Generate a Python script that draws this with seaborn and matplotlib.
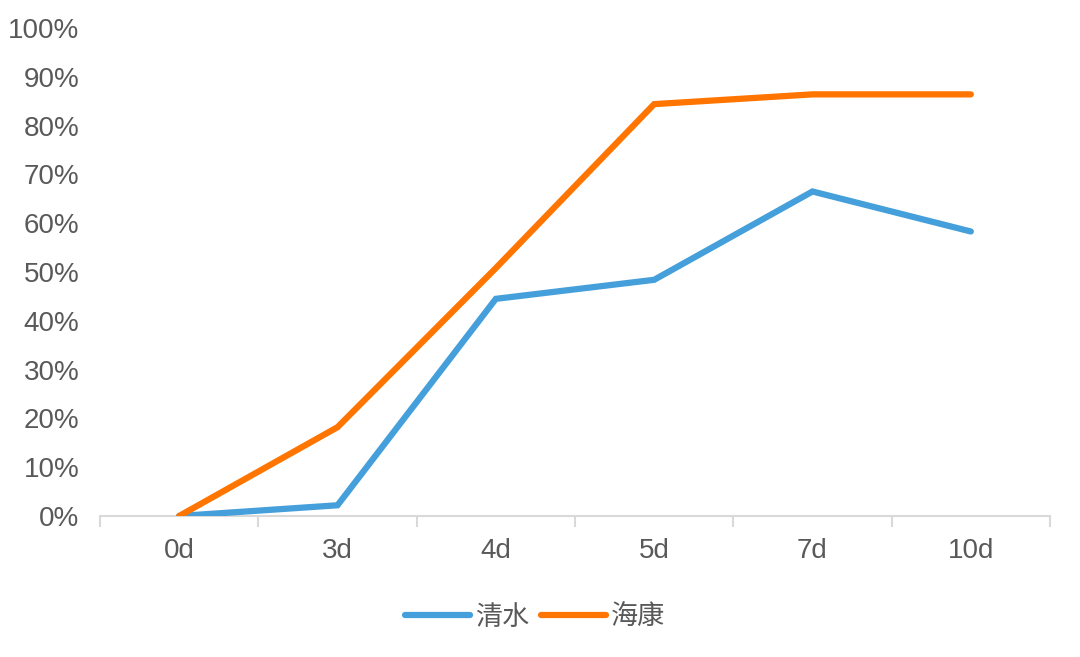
import numpy as np
import pandas as pd
import seaborn as sns
import matplotlib.pyplot as plt
from matplotlib.ticker import FixedLocator, PercentFormatter

days = ['0d', '3d', '4d', '5d', '7d', '10d']
qingshui = [0.0, 0.022, 0.445, 0.484, 0.665, 0.583]
haikang = [0.0, 0.182, 0.508, 0.844, 0.864, 0.864]
series_names = ['清水', '海康']

df = pd.DataFrame({
    'day': days * 2,
    'value': qingshui + haikang,
    'series': [series_names[0]] * len(days) + [series_names[1]] * len(days),
})

sns.set_style('white')
plt.rcParams['font.family'] = ['Noto Sans CJK SC', 'DejaVu Sans']

fig = plt.figure(figsize=(10.8, 6.57), dpi=100)
ax = fig.add_axes([100 / 1080, 1 - 516 / 657, 950 / 1080, 488 / 657])

sns.lineplot(data=df, x='day', y='value', hue='series', sort=False,
             palette=['#449fdb', '#ff7500'], linewidth=4.5, ax=ax,
             solid_capstyle='round', solid_joinstyle='miter')

ax.set_xlim(-0.5, len(days) - 0.5)
ax.set_ylim(0, 1)
ax.yaxis.set_major_locator(FixedLocator(np.arange(0, 1.01, 0.1)))
ax.yaxis.set_major_formatter(PercentFormatter(1.0, decimals=0))
ax.set_xlabel('')
ax.set_ylabel('')

for side in ['top', 'right', 'left']:
    ax.spines[side].set_visible(False)
ax.spines['bottom'].set_color('#d9d9d9')
ax.spines['bottom'].set_linewidth(1.5)
ax.spines['bottom'].set_zorder(0)

ax.xaxis.set_minor_locator(FixedLocator(np.arange(-0.5, len(days), 1.0)))
ax.tick_params(axis='x', which='major', length=0, pad=16, labelsize=20, labelcolor='#595959')
ax.tick_params(axis='x', which='minor', length=8, width=1.5, color='#d9d9d9', bottom=True)
ax.tick_params(axis='y', length=0, pad=15, labelsize=20, labelcolor='#595959')
for lbl in ax.get_yticklabels():
    lbl.set_family(['Liberation Sans', 'DejaVu Sans'])
for lbl in ax.get_xticklabels():
    lbl.set_family(['Liberation Sans', 'DejaVu Sans'])

ax.legend(loc='center', bbox_to_anchor=(0.458, -0.207), ncol=2, frameon=False,
          fontsize=19.5, handlelength=2.4, handletextpad=0.2, columnspacing=0.4,
          labelcolor='#595959')

fig.savefig('out.png', dpi=100)
